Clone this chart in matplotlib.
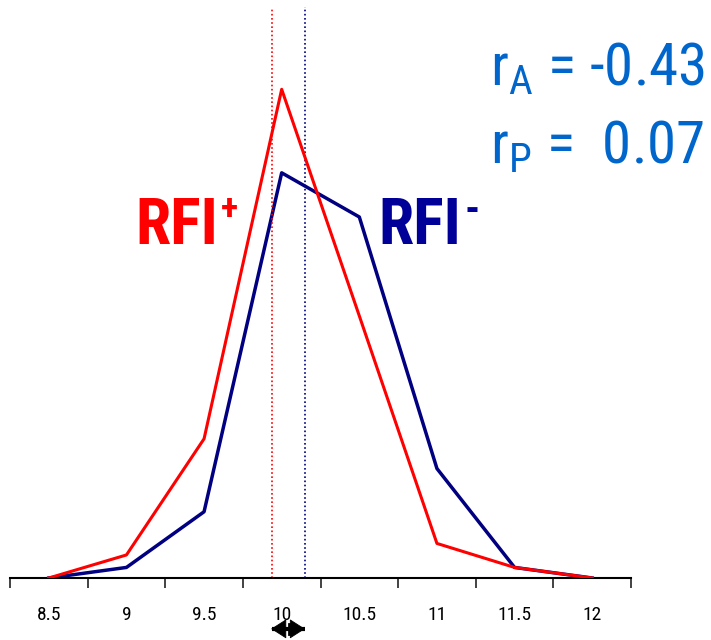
import matplotlib
matplotlib.use('Agg')
import matplotlib.pyplot as plt
import matplotlib.transforms as mtransforms
from matplotlib import font_manager

# 选一个窄体字（Arial Narrow 风格）
names = set(f.name for f in font_manager.fontManager.ttflist)
def pick(cands):
    for n in cands:
        if n in names:
            return n
    return 'Liberation Sans'
font = pick(['Liberation Sans Narrow', 'Arial Narrow', 'Roboto Condensed', 'Archivo Narrow',
             'Fira Sans Condensed'])
plt.rcParams['font.family'] = [font, 'DejaVu Sans']
plt.rcParams['mathtext.fontset'] = 'custom'
plt.rcParams['mathtext.rm'] = font

# 数据：各组频率分布（%）
bins = [8.5, 9, 9.5, 10, 10.5, 11, 11.5, 12]
tick_labels = ['8.5', '9', '9.5', '10', '10.5', '11', '11.5', '12']
rfi_pos = [0, 2.4, 14.5, 50.9, 27.3, 3.6, 1.1, 0]   # RFI+
rfi_neg = [0, 1.1, 6.9, 42.2, 37.6, 11.4, 1.1, 0]   # RFI-
mean_pos = 9.94
mean_neg = 10.15
r_a = '-0.43'
r_p = '0.07'

fig = plt.figure(figsize=(7.11, 6.4), dpi=100)
ax = fig.add_axes([10/711, 62/640, 621/711, 578/640])

ax.plot(bins, rfi_pos, color='#ff0000', lw=2.2, zorder=3)
ax.plot(bins, rfi_neg, color='#000080', lw=2.5, zorder=2)
ax.vlines(mean_pos, 0, 59.3, colors='#ff0000', linestyles=(0, (1, 1.5)), lw=1.2)
ax.vlines(mean_neg, 0, 59.5, colors='#000080', linestyles=(0, (1, 1.5)), lw=1.2)

ax.set_xlim(8.25, 12.25)
ax.set_ylim(0, 60.2)
for s in ['top', 'right', 'left']:
    ax.spines[s].set_visible(False)
ax.spines['bottom'].set_linewidth(1.5)
ax.set_yticks([])

# 刻度在组界，标签在组中
edges = [b - 0.25 for b in bins] + [bins[-1] + 0.25]
ax.set_xticks(edges)
ax.set_xticklabels([])
ax.tick_params(axis='x', which='major', direction='out', length=7, width=1.2, color='#222222')
ax.set_xticks(bins, minor=True)
ax.set_xticklabels(tick_labels, minor=True, fontsize=14)
ax.tick_params(axis='x', which='minor', length=0, pad=20)

ax.text(9.06, 34.8, 'RFI', color='#ff0000', fontsize=46, fontweight='bold',
        ha='left', va='baseline')
ax.text(9.61, 37.3, '+', color='#ff0000', fontsize=26, fontweight='bold',
        ha='left', va='baseline')
ax.text(10.62, 34.8, 'RFI', color='#000099', fontsize=46, fontweight='bold',
        ha='left', va='baseline')
ax.text(11.18, 37.0, '-', color='#000099', fontsize=30, fontweight='bold',
        ha='left', va='baseline')
ax.text(11.34, 51.3, r'r$_\mathregular{A}$ = ' + r_a, color='#0066cc', fontsize=42.5,
        ha='left', va='baseline')
ax.text(11.34, 43.2, r'r$_\mathregular{P}$ =  ' + r_p, color='#0066cc', fontsize=42.5,
        ha='left', va='baseline')

# 两组均值差箭头：杆 + 两个箭头 + 中间短竖线
trans = mtransforms.blended_transform_factory(ax.transData, ax.transAxes)
ay = -0.088
mid = (mean_pos + mean_neg) / 2
ax.plot([mean_pos, mean_neg], [ay, ay], transform=trans, color='black', lw=3,
        clip_on=False, solid_capstyle='butt')
for end in (mean_pos - 0.008, mean_neg):
    ax.annotate('', xy=(end, ay), xytext=(mid, ay),
                xycoords=trans, textcoords=trans, annotation_clip=False,
                arrowprops=dict(arrowstyle='-|>,head_length=0.5,head_width=0.32',
                                mutation_scale=20, lw=0.6, color='black',
                                shrinkA=0, shrinkB=0))
ax.plot([mid, mid], [ay + 0.009, ay - 0.009], transform=trans, color='black', lw=2,
        clip_on=False)

fig.savefig('out.png', dpi=100)
